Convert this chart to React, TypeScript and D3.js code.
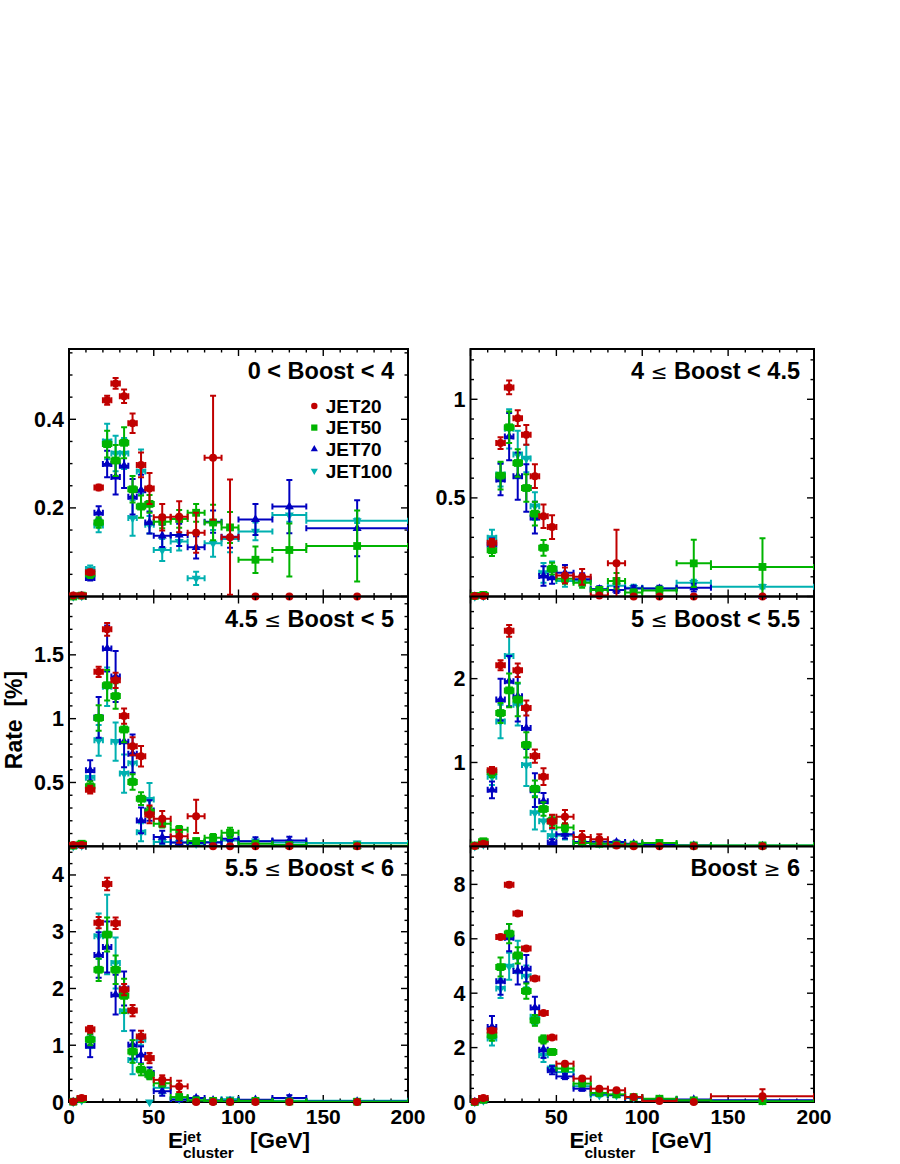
import React from "react";
import * as d3 from "d3";

// ---------- data ----------
const BIN_EDGES = [0, 5, 10, 15, 20, 25, 30, 35, 40, 45, 50, 60, 70, 80, 90, 100, 120, 140, 200];
const SERIES_NAMES = ["JET20", "JET50", "JET70", "JET100"];
const SERIES_COLORS = ["#c00000", "#00b400", "#0000c0", "#00b0b0"];
const SERIES_MARKERS = ["circle", "square", "triUp", "triDown"];
const PANEL_TITLES = ["0 < Boost < 4", "4 ≤ Boost < 4.5", "4.5 ≤ Boost < 5", "5 ≤ Boost < 5.5", "5.5 ≤ Boost < 6", "Boost ≥ 6"];
const X_TICK_LABELS = [0, 50, 100, 150, 200];
const Y_LABELS_0 = [0.2, 0.4];
const Y_LABELS_1 = [0.5, 1];
const Y_LABELS_2 = [0.5, 1, 1.5];
const Y_LABELS_3 = [1, 2];
const Y_LABELS_4 = [0, 1, 2, 3, 4];
const Y_LABELS_5 = [0, 2, 4, 6, 8];

// Panel 0: 0 < Boost < 4
const B0_JET20 = [0.002, 0.002, 0.055, 0.246, 0.443, 0.481, 0.452, 0.391, 0.297, 0.244, 0.179, 0.18, 0.144, 0.313, 0.134, 0, 0, 0];
const B0_JET20_ERR = [0.002, 0.002, 0.006, 0.006, 0.01, 0.012, 0.015, 0.022, 0.028, 0.035, 0.03, 0.035, 0.045, 0.14, 0.13, 0, 0, 0];
const B0_JET50 = [0, 0.002, 0.05, 0.167, 0.344, 0.307, 0.347, 0.242, 0.203, 0.209, 0.169, 0.175, 0.189, 0.167, 0.156, 0.083, 0.105, 0.114];
const B0_JET50_ERR = [0, 0.002, 0.008, 0.012, 0.03, 0.035, 0.035, 0.03, 0.025, 0.02, 0.015, 0.02, 0.02, 0.04, 0.035, 0.03, 0.06, 0.08];
const B0_JET70 = [0, 0.001, 0.042, 0.189, 0.299, 0.27, 0.295, 0.225, 0.24, 0.167, 0.137, 0.139, 0.111, 0.169, 0.135, 0.174, 0.203, 0.154];
const B0_JET70_ERR = [0, 0.001, 0.006, 0.015, 0.03, 0.04, 0.05, 0.04, 0.035, 0.025, 0.025, 0.025, 0.025, 0.025, 0.025, 0.035, 0.06, 0.063];
const B0_JET100 = [0, 0.001, 0.062, 0.16, 0.35, 0.323, 0.323, 0.177, 0.282, 0.162, 0.105, 0.124, 0.041, 0.12, 0.13, 0.147, 0.184, 0.171];
const B0_JET100_ERR = [0, 0.001, 0.008, 0.015, 0.04, 0.04, 0.035, 0.04, 0.05, 0.02, 0.025, 0.02, 0.015, 0.03, 0.03, 0.02, 0.015, 0.005];

// Panel 1: 4 <= Boost < 4.5
const B1_JET20 = [0.002, 0.003, 0.272, 0.778, 1.06, 0.904, 0.82, 0.61, 0.407, 0.352, 0.107, 0.1, 0.005, 0.168, 0, 0, 0, 0];
const B1_JET20_ERR = [0.002, 0.003, 0.02, 0.03, 0.035, 0.04, 0.05, 0.06, 0.06, 0.06, 0.04, 0.04, 0.005, 0.17, 0, 0, 0, 0];
const B1_JET50 = [0.003, 0.008, 0.235, 0.613, 0.858, 0.677, 0.55, 0.42, 0.247, 0.141, 0.09, 0.07, 0.033, 0.079, 0.02, 0.03, 0.168, 0.15];
const B1_JET50_ERR = [0.002, 0.004, 0.03, 0.07, 0.08, 0.07, 0.07, 0.06, 0.04, 0.03, 0.025, 0.025, 0.015, 0.04, 0.015, 0.02, 0.12, 0.145];
const B1_JET70 = [0, 0.002, 0.264, 0.593, 0.811, 0.61, 0.55, 0.4, 0.104, 0.095, 0.12, 0.088, 0.037, 0.033, 0.04, 0.04, 0.045, 0];
const B1_JET70_ERR = [0, 0.002, 0.03, 0.08, 0.12, 0.12, 0.12, 0.08, 0.05, 0.03, 0.04, 0.03, 0.015, 0.015, 0.015, 0.015, 0.02, 0];
const B1_JET100 = [0, 0.002, 0.298, 0.618, 0.85, 0.72, 0.7, 0.458, 0.12, 0.138, 0.079, 0.08, 0.037, 0.054, 0.045, 0.04, 0.07, 0.05];
const B1_JET100_ERR = [0, 0.002, 0.04, 0.06, 0.1, 0.12, 0.07, 0.07, 0.05, 0.04, 0.03, 0.025, 0.012, 0.02, 0.015, 0.01, 0.015, 0.01];

// Panel 2: 4.5 <= Boost < 5
const B2_JET20 = [0.01, 0.01, 0.444, 1.367, 1.7, 1.3, 1.02, 0.784, 0.706, 0.25, 0.216, 0.078, 0.235, 0, 0, 0, 0, 0];
const B2_JET20_ERR = [0.005, 0.005, 0.03, 0.04, 0.05, 0.06, 0.06, 0.07, 0.08, 0.07, 0.06, 0.05, 0.13, 0, 0, 0, 0, 0];
const B2_JET50 = [0.005, 0.02, 0.47, 1.006, 1.262, 1.177, 0.915, 0.504, 0.373, 0.268, 0.177, 0.13, 0.041, 0.067, 0.106, 0.02, 0.01, 0.005];
const B2_JET50_ERR = [0.003, 0.01, 0.04, 0.1, 0.12, 0.1, 0.1, 0.06, 0.05, 0.04, 0.03, 0.03, 0.02, 0.03, 0.04, 0.01, 0.01, 0.005];
const B2_JET70 = [0, 0.005, 0.595, 1.01, 1.55, 1.33, 0.82, 0.726, 0.203, 0.28, 0.072, 0.03, 0.025, 0.03, 0.06, 0.04, 0.045, 0];
const B2_JET70_ERR = [0, 0.003, 0.08, 0.16, 0.18, 0.2, 0.2, 0.15, 0.1, 0.08, 0.05, 0.02, 0.02, 0.02, 0.02, 0.03, 0.03, 0];
const B2_JET100 = [0, 0.005, 0.538, 0.83, 1.25, 0.82, 0.57, 0.65, 0.11, 0.366, 0.033, 0.03, 0.02, 0.033, 0.046, 0.04, 0.03, 0.025];
const B2_JET100_ERR = [0, 0.003, 0.06, 0.12, 0.15, 0.15, 0.15, 0.12, 0.07, 0.13, 0.02, 0.02, 0.01, 0.015, 0.015, 0.01, 0.01, 0.01];

// Panel 3: 5 <= Boost < 5.5
const B3_JET20 = [0.005, 0.03, 0.907, 2.16, 2.57, 2.1, 1.65, 1.076, 0.83, 0.297, 0.353, 0.112, 0.084, 0.01, 0, 0, 0, 0];
const B3_JET20_ERR = [0.005, 0.02, 0.04, 0.06, 0.07, 0.08, 0.09, 0.08, 0.1, 0.08, 0.08, 0.07, 0.06, 0.01, 0, 0, 0, 0];
const B3_JET50 = [0.01, 0.06, 0.885, 1.59, 1.86, 1.75, 1.21, 0.686, 0.445, 0.305, 0.224, 0.04, 0.03, 0.02, 0.02, 0.04, 0.01, 0.01];
const B3_JET50_ERR = [0.005, 0.02, 0.06, 0.12, 0.2, 0.2, 0.15, 0.1, 0.08, 0.06, 0.05, 0.02, 0.02, 0.01, 0.01, 0.01, 0.01, 0.01];
const B3_JET70 = [0, 0.02, 0.674, 1.75, 1.97, 1.79, 1.41, 0.67, 0.537, 0.044, 0.144, 0.05, 0.055, 0.05, 0.03, 0.02, 0.01, 0.005];
const B3_JET70_ERR = [0, 0.01, 0.1, 0.25, 0.3, 0.3, 0.25, 0.2, 0.1, 0.04, 0.05, 0.02, 0.02, 0.02, 0.02, 0.01, 0.01, 0.005];
const B3_JET100 = [0, 0.02, 0.83, 1.49, 2.27, 1.69, 0.97, 0.4, 0.3, 0.124, 0.13, 0.04, 0.03, 0.04, 0.02, 0.02, 0.01, 0.01];
const B3_JET100_ERR = [0, 0.01, 0.1, 0.2, 0.3, 0.25, 0.25, 0.2, 0.12, 0.08, 0.05, 0.02, 0.02, 0.02, 0.01, 0.01, 0.01, 0.01];

// Panel 4: 5.5 <= Boost < 6
const B4_JET20 = [0.005, 0.07, 1.28, 3.16, 3.84, 3.15, 1.98, 1.61, 1.155, 0.774, 0.39, 0.275, 0, 0, 0, 0, 0, 0];
const B4_JET20_ERR = [0.005, 0.03, 0.06, 0.1, 0.11, 0.1, 0.1, 0.1, 0.1, 0.09, 0.08, 0.1, 0, 0, 0, 0, 0, 0];
const B4_JET50 = [0.005, 0.05, 1.1, 2.33, 2.95, 2.33, 1.87, 0.89, 0.57, 0.48, 0.33, 0.087, 0.03, 0.02, 0.01, 0.02, 0.01, 0.005];
const B4_JET50_ERR = [0.003, 0.02, 0.1, 0.2, 0.3, 0.25, 0.3, 0.2, 0.1, 0.08, 0.06, 0.05, 0.02, 0.02, 0.01, 0.01, 0.01, 0.005];
const B4_JET70 = [0, 0.03, 0.99, 2.59, 2.73, 1.89, 2.0, 1.01, 0.83, 0.51, 0.19, 0.04, 0.07, 0.03, 0.02, 0.04, 0.07, 0.01];
const B4_JET70_ERR = [0, 0.02, 0.2, 0.4, 0.45, 0.35, 0.3, 0.25, 0.15, 0.1, 0.08, 0.03, 0.03, 0.02, 0.02, 0.02, 0.05, 0.01];
const B4_JET100 = [0, 0.03, 1.1, 2.92, 2.95, 2.45, 1.6, 0.74, 1.1, 0, 0.25, 0.05, 0.03, 0.02, 0.05, 0.02, 0.02, 0.02];
const B4_JET100_ERR = [0, 0.02, 0.15, 0.4, 0.7, 0.45, 0.35, 0.25, 0.1, 0, 0.1, 0.03, 0.02, 0.02, 0.02, 0.02, 0.02, 0.02];

// Panel 5: Boost >= 6
const B5_JET20 = [0.005, 0.15, 2.63, 6.07, 7.99, 6.93, 5.64, 4.54, 3.27, 2.37, 1.41, 0.86, 0.49, 0.43, 0.185, 0.04, 0, 0.21];
const B5_JET20_ERR = [0.005, 0.05, 0.08, 0.08, 0.08, 0.08, 0.08, 0.07, 0.06, 0.06, 0.05, 0.05, 0.04, 0.05, 0.05, 0.03, 0, 0.26];
const B5_JET50 = [0, 0.08, 2.45, 4.96, 6.19, 5.39, 4.08, 3.0, 2.3, 1.84, 1.23, 0.675, 0.33, 0.28, 0.18, 0.12, 0.06, 0.03];
const B5_JET50_ERR = [0, 0.05, 0.2, 0.35, 0.35, 0.3, 0.28, 0.2, 0.15, 0.1, 0.08, 0.06, 0.05, 0.05, 0.05, 0.04, 0.03, 0.02];
const B5_JET70 = [0, 0.05, 2.76, 4.44, 6.04, 4.82, 4.9, 3.47, 1.92, 1.17, 0.94, 0.49, 0.31, 0.25, 0.16, 0.09, 0.09, 0.06];
const B5_JET70_ERR = [0, 0.04, 0.4, 0.5, 0.5, 0.5, 0.5, 0.4, 0.3, 0.15, 0.1, 0.08, 0.06, 0.05, 0.04, 0.03, 0.03, 0.02];
const B5_JET100 = [0, 0.05, 2.33, 4.17, 4.99, 5.33, 4.62, 3.13, 1.72, 1.23, 1.1, 0.58, 0.25, 0.25, 0.16, 0.1, 0.06, 0.05];
const B5_JET100_ERR = [0, 0.04, 0.25, 0.35, 0.5, 0.6, 0.4, 0.3, 0.25, 0.12, 0.1, 0.08, 0.05, 0.05, 0.04, 0.03, 0.03, 0.02];

// ---------- layout ----------
const FONT = "'Liberation Sans', Arial, Helvetica, sans-serif";
const COLS = [
  [69, 408],
  [470.5, 814],
];
const ROWS = [
  [349, 596.5],
  [596.5, 846.3],
  [846.3, 1102],
];

const PANELS = [
  { title: PANEL_TITLES[0], col: 0, row: 0, ymax: 0.5587, major: 0.2, minor: 0.05, yLabels: Y_LABELS_0,
    series: [[B0_JET20, B0_JET20_ERR], [B0_JET50, B0_JET50_ERR], [B0_JET70, B0_JET70_ERR], [B0_JET100, B0_JET100_ERR]] },
  { title: PANEL_TITLES[1], col: 1, row: 0, ymax: 1.255, major: 0.5, minor: 0.1, yLabels: Y_LABELS_1,
    series: [[B1_JET20, B1_JET20_ERR], [B1_JET50, B1_JET50_ERR], [B1_JET70, B1_JET70_ERR], [B1_JET100, B1_JET100_ERR]] },
  { title: PANEL_TITLES[2], col: 0, row: 1, ymax: 1.957, major: 0.5, minor: 0.1, yLabels: Y_LABELS_2,
    series: [[B2_JET20, B2_JET20_ERR], [B2_JET50, B2_JET50_ERR], [B2_JET70, B2_JET70_ERR], [B2_JET100, B2_JET100_ERR]] },
  { title: PANEL_TITLES[3], col: 1, row: 1, ymax: 2.98, major: 1, minor: 0.2, yLabels: Y_LABELS_3,
    series: [[B3_JET20, B3_JET20_ERR], [B3_JET50, B3_JET50_ERR], [B3_JET70, B3_JET70_ERR], [B3_JET100, B3_JET100_ERR]] },
  { title: PANEL_TITLES[4], col: 0, row: 2, ymax: 4.505, major: 1, minor: 0.2, yLabels: Y_LABELS_4,
    series: [[B4_JET20, B4_JET20_ERR], [B4_JET50, B4_JET50_ERR], [B4_JET70, B4_JET70_ERR], [B4_JET100, B4_JET100_ERR]] },
  { title: PANEL_TITLES[5], col: 1, row: 2, ymax: 9.4, major: 2, minor: 0.5, yLabels: Y_LABELS_5,
    series: [[B5_JET20, B5_JET20_ERR], [B5_JET50, B5_JET50_ERR], [B5_JET70, B5_JET70_ERR], [B5_JET100, B5_JET100_ERR]] },
];

const CAP = 3;
const MAJOR_LEN = 7;
const MINOR_LEN = 3.5;

function Marker({ kind, x, y, color, size = 1 }: { kind: string; x: number; y: number; color: string; size?: number }) {
  if (kind === "circle") return <circle cx={x} cy={y} r={4 * size} fill={color} />;
  if (kind === "square") {
    const h = 3.9 * size;
    return <rect x={x - h} y={y - h} width={2 * h} height={2 * h} fill={color} />;
  }
  const s = 9 * size;
  const a = s * 0.577;
  const b = s * 0.289;
  const pts =
    kind === "triUp"
      ? [[x, y - a], [x - s / 2, y + b], [x + s / 2, y + b]]
      : [[x, y + a], [x - s / 2, y - b], [x + s / 2, y - b]];
  return <polygon points={pts.map((p) => p.join(",")).join(" ")} fill={color} />;
}

function ticksOf(max: number, step: number) {
  const n = Math.floor(max / step + 1e-6);
  return d3.range(0, n + 1).map((i) => +(i * step).toFixed(6));
}

function TitleText({ text, x, y }: { text: string; x: number; y: number }) {
  const parts = text.split(/([≤≥])/);
  return (
    <text x={x} y={y} textAnchor="end" fontFamily={FONT} fontWeight="bold" fontSize={23.5} fill="#000">
      {parts.map((p, i) =>
        p === "≤" || p === "≥" ? (
          <tspan key={i} fontWeight="normal" fontFamily="'DejaVu Sans', sans-serif" fontSize={20}>
            {p}
          </tspan>
        ) : (
          <tspan key={i}>{p}</tspan>
        )
      )}
    </text>
  );
}

function Panel({ cfg, idx }: { cfg: any; idx: number }) {
  const [x0, x1] = COLS[cfg.col];
  const [y0, y1] = ROWS[cfg.row];
  const xs = d3.scaleLinear().domain([0, 200]).range([x0, x1]);
  const ys = d3.scaleLinear().domain([0, cfg.ymax]).range([y1, y0]);
  const clipId = `clip${idx}`;
  const xMajor = ticksOf(200, 50);
  const xMinor = ticksOf(200, 10);
  const yMajor = ticksOf(cfg.ymax, cfg.major);
  const yMinor = ticksOf(cfg.ymax, cfg.minor);
  const order = [3, 2, 1, 0];
  const isBottom = cfg.row === 2;

  return (
    <g>
      <defs>
        <clipPath id={clipId}>
          <rect x={x0} y={y0} width={x1 - x0} height={y1 - y0} />
        </clipPath>
      </defs>
      {/* frame */}
      <rect x={x0} y={y0} width={x1 - x0} height={y1 - y0} fill="none" stroke="#000" strokeWidth={2} />
      {/* ticks */}
      <g stroke="#000" strokeWidth={1.4}>
        {xMinor.map((v) => {
          const len = xMajor.includes(v) ? MAJOR_LEN : MINOR_LEN;
          return (
            <g key={"xt" + v}>
              <line x1={xs(v)} x2={xs(v)} y1={y1} y2={y1 - len} />
              <line x1={xs(v)} x2={xs(v)} y1={y0} y2={y0 + len} />
            </g>
          );
        })}
        {yMinor.map((v) => {
          const len = yMajor.some((m) => Math.abs(m - v) < 1e-6) ? MAJOR_LEN : MINOR_LEN;
          return (
            <g key={"yt" + v}>
              <line x1={x0} x2={x0 + len} y1={ys(v)} y2={ys(v)} />
              <line x1={x1} x2={x1 - len} y1={ys(v)} y2={ys(v)} />
            </g>
          );
        })}
      </g>
      {/* y tick labels */}
      {cfg.yLabels.map((v: number) => (
        <text key={"yl" + v} x={x0 - 5} y={ys(v) + 7.5} textAnchor="end" fontFamily={FONT} fontWeight="bold" fontSize={21.5}>
          {d3.format("~g")(v)}
        </text>
      ))}
      {/* x tick labels */}
      {isBottom &&
        X_TICK_LABELS.map((v) => (
          <text key={"xl" + v} x={xs(v)} y={1124} textAnchor="middle" fontFamily={FONT} fontWeight="bold" fontSize={21}>
            {v}
          </text>
        ))}
      {/* data */}
      {order.map((si) => {
        const [vals, errs] = cfg.series[si];
        const color = SERIES_COLORS[si];
        return (
          <g key={"s" + si}>
            <g clipPath={`url(#${clipId})`} stroke={color} strokeWidth={2} fill="none">
              {vals.map((v: number, i: number) => {
                const e = errs[i];
                if (v === 0 && e === 0) return null;
                const xa = xs(BIN_EDGES[i]);
                const xb = xs(BIN_EDGES[i + 1]);
                const yv = ys(v);
                const yt = ys(v + e);
                const yb = ys(v - e);
                const xc = (xa + xb) / 2;
                return (
                  <g key={i}>
                    <line x1={xa} x2={xb} y1={yv} y2={yv} />
                    <line x1={xa} x2={xa} y1={yv - CAP} y2={yv + CAP} />
                    <line x1={xb} x2={xb} y1={yv - CAP} y2={yv + CAP} />
                    {e > 0 && (
                      <>
                        <line x1={xc} x2={xc} y1={yt} y2={yb} />
                        <line x1={xc - CAP} x2={xc + CAP} y1={yt} y2={yt} />
                        <line x1={xc - CAP} x2={xc + CAP} y1={yb} y2={yb} />
                      </>
                    )}
                  </g>
                );
              })}
            </g>
            {vals.map((v: number, i: number) => (
              <Marker
                key={"m" + i}
                kind={SERIES_MARKERS[si]}
                x={xs((BIN_EDGES[i] + BIN_EDGES[i + 1]) / 2)}
                y={ys(v)}
                color={color}
              />
            ))}
          </g>
        );
      })}
      {/* title */}
      <TitleText text={cfg.title} x={x1 - 14} y={y0 + 30} />
      {/* x axis title */}
      {isBottom && (
        <g fontFamily={FONT} fontWeight="bold" fill="#000">
          <text x={x0 + 99} y={1148.3} fontSize={22.5}>E</text>
          <text x={x0 + 114} y={1141.5} fontSize={15.5}>jet</text>
          <text x={x0 + 114} y={1158.3} fontSize={15.5}>cluster</text>
          <text x={x0 + 181} y={1148.3} fontSize={22.5}>[GeV]</text>
        </g>
      )}
    </g>
  );
}

function Legend() {
  const rows = [406, 427.6, 449.2, 470.8];
  return (
    <g>
      {SERIES_NAMES.map((name, i) => (
        <g key={name}>
          <Marker kind={SERIES_MARKERS[i]} x={314.3} y={rows[i]} color={SERIES_COLORS[i]} size={0.8} />
          <text x={325.7} y={rows[i] + 6.8} fontFamily={FONT} fontWeight="bold" fontSize={19}>
            {name}
          </text>
        </g>
      ))}
    </g>
  );
}

export default function App() {
  return (
    <svg
      width={900}
      height={1164}
      viewBox="0 0 900 1164"
      style={{ position: "absolute", left: 0, top: 0, background: "#fff" }}
    >
      <rect x={0} y={0} width={900} height={1164} fill="#fff" />
      {PANELS.map((p, i) => (
        <Panel key={i} cfg={p} idx={i} />
      ))}
      <Legend />
      <text
        transform="translate(21.5,720) rotate(-90)"
        textAnchor="middle"
        fontFamily={FONT}
        fontWeight="bold"
        fontSize={23}
      >
        {"Rate\u00a0\u00a0[%]"}
      </text>
    </svg>
  );
}
